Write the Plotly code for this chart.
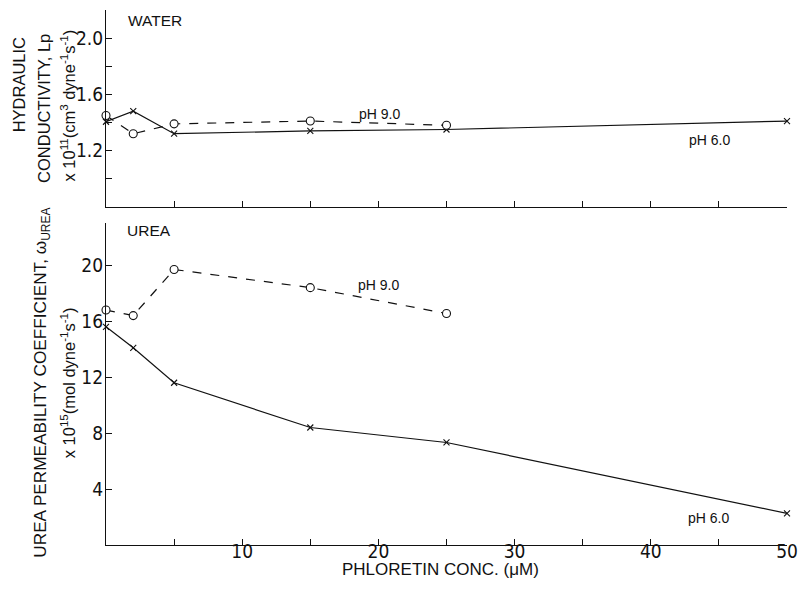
import plotly.graph_objects as go

# ---- data ----
conc_w_ph6 = [0, 2, 5, 15, 25, 50]
lp_ph6 = [1.405, 1.48, 1.32, 1.34, 1.35, 1.41]
conc_w_ph9 = [0, 2, 5, 15, 25]
lp_ph9 = [1.45, 1.32, 1.39, 1.41, 1.38]

conc_u_ph6 = [0, 2, 5, 15, 25, 50]
omega_ph6 = [15.6, 14.1, 11.6, 8.4, 7.33, 2.26]
conc_u_ph9 = [0, 2, 5, 15, 25]
omega_ph9 = [16.8, 16.4, 19.7, 18.4, 16.55]

x_tickvals = [0, 5, 10, 15, 20, 25, 30, 35, 40, 45, 50]
x_ticktext = ["", "", "10", "", "20", "", "30", "", "40", "", "50"]
lp_tickvals = [1.0, 1.2, 1.4, 1.6, 1.8, 2.0]
lp_ticktext = ["", "1.2", "", "1.6", "", "2.0"]
om_tickvals = [4, 8, 12, 16, 20]

FONT = "Liberation Sans Narrow, DejaVu Sans Condensed, Liberation Sans, sans-serif"
FONT_REG = "Liberation Sans, Arial, sans-serif"
BLACK = "#111111"

# plot-area geometry (pixels)
L, R, T, B = 106, 798, 10, 545.5
W, H = 802, 595

fig = go.Figure()

def add(x, y, dash, symbol, msize, xa, ya):
    is_circle = symbol == "circle"
    fig.add_trace(go.Scatter(
        x=x, y=y, mode="lines+markers", xaxis=xa, yaxis=ya,
        line=dict(color=BLACK, width=1.2, dash=dash),
        marker=dict(symbol=symbol, size=msize, color="white" if is_circle else BLACK,
                    line=dict(color=BLACK, width=1.1)),
        showlegend=False, cliponaxis=False))

add(conc_w_ph6, lp_ph6, "solid", "x-thin", 6, "x", "y")
add(conc_w_ph9, lp_ph9, "dash", "circle", 8, "x", "y")
add(conc_u_ph6, omega_ph6, "solid", "x-thin", 6, "x2", "y2")
add(conc_u_ph9, omega_ph9, "dash", "circle", 8, "x2", "y2")

axis_common = dict(showline=True, linecolor=BLACK, linewidth=1.2, ticks="inside",
                   tickcolor=BLACK, ticklen=6, tickwidth=1.2, showgrid=False,
                   zeroline=False, tickfont=dict(family=FONT, size=19, color=BLACK),
                   ticklabeloverflow="allow")

fig.update_layout(
    width=W, height=H,
    margin=dict(l=L, r=W - R, t=T, b=H - B),
    paper_bgcolor="white", plot_bgcolor="white",
    font=dict(family=FONT, color=BLACK),
    xaxis=dict(domain=[0, 1], range=[0, 50], anchor="y", tickvals=x_tickvals,
               ticktext=[""] * len(x_tickvals), **axis_common),
    yaxis=dict(domain=[(B - 207) / (B - T), 1], range=[0.8, 2.2], anchor="x",
               tickvals=lp_tickvals, ticktext=lp_ticktext, ticklabelstandoff=-2, **axis_common),
    xaxis2=dict(domain=[0, 1], range=[0, 50], anchor="y2", tickvals=x_tickvals,
                ticktext=x_ticktext, ticklabelstandoff=-11, **axis_common),
    yaxis2=dict(domain=[0, (B - 223.5) / (B - T)], range=[0, 23], anchor="x2",
                tickvals=om_tickvals, ticklabelstandoff=-2, **axis_common),
)

def px2paper_x(px):
    return (px - L) / (R - L)

def py2paper_y(py):
    return (B - py) / (B - T)

def ann(text, px, py, size=16.5, angle=0, xanchor="left", family=FONT_REG):
    fig.add_annotation(text=text, x=px2paper_x(px), y=py2paper_y(py), xref="paper", yref="paper",
                       showarrow=False, textangle=angle, xanchor=xanchor, yanchor="middle",
                       font=dict(family=family, size=size, color=BLACK))

# panel titles
ann("WATER", 126, 21, size=15.5)
ann("UREA", 125, 231, size=15.5)
# series labels
ann("pH 9.0", 361, 114, size=14)
ann("pH 6.0", 696, 140, size=14)
ann("pH 9.0", 360, 285, size=14)
ann("pH 6.0", 695, 518, size=14)

# y titles
ann("HYDRAULIC", 18, 85, angle=-90, xanchor="center")
ann("CONDUCTIVITY, Lp", 43, 109, angle=-90, xanchor="center")
ann("x 10<sup>11</sup>(cm<sup>3</sup> dyne<sup>-1</sup>s<sup>-1</sup>)", 67, 106,
    angle=-90, xanchor="center")
ann("UREA PERMEABILITY COEFFICIENT, ω<sub>UREA</sub>", 41, 383, size=17.2,
    angle=-90, xanchor="center")
ann("x 10<sup>15</sup>(mol dyne<sup>-1</sup>s<sup>-1</sup>)", 67, 383,
    angle=-90, xanchor="center")

# x title
ann("PHLORETIN CONC. (μM)", 446, 570, size=17, xanchor="center")

fig.write_html("out.html", config={"displayModeBar": False},
               post_script="document.body.style.margin='0';document.body.style.overflow='hidden';")
